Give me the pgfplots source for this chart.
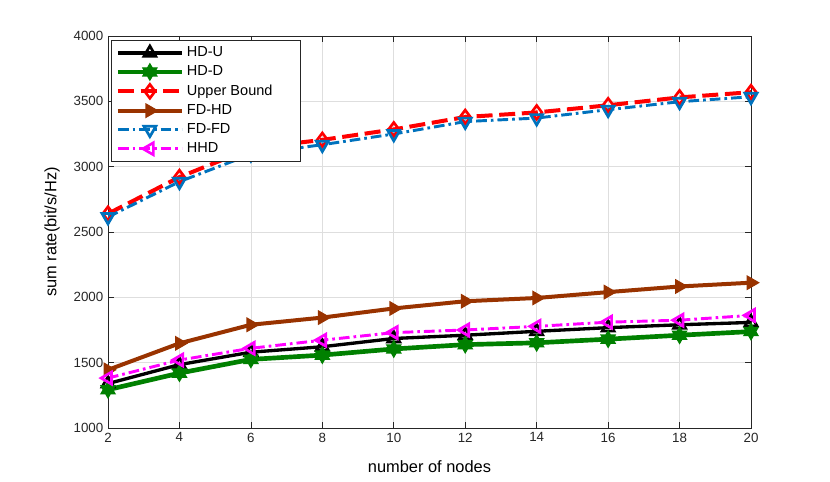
\documentclass[border=0pt]{standalone}
\usepackage{pgfplots}
\pgfplotsset{compat=1.18}
\usepackage{fontspec}
\setmainfont{Liberation Sans}
\definecolor{mbrown}{rgb}{0.6,0.2,0}
\definecolor{mblue}{rgb}{0,0.447,0.741}
\definecolor{mgreen}{rgb}{0,0.5,0}
\definecolor{mmag}{rgb}{1,0,1}
\definecolor{axgray}{rgb}{0.15,0.15,0.15}
\pgfdeclareplotmark{hexagram}{%
  \pgfpathmoveto{\pgfpointpolar{90}{1.2\pgfplotmarksize}}%
  \pgfpathlineto{\pgfpointpolar{210}{1.2\pgfplotmarksize}}%
  \pgfpathlineto{\pgfpointpolar{330}{1.2\pgfplotmarksize}}%
  \pgfpathclose
  \pgfpathmoveto{\pgfpointpolar{270}{1.2\pgfplotmarksize}}%
  \pgfpathlineto{\pgfpointpolar{30}{1.2\pgfplotmarksize}}%
  \pgfpathlineto{\pgfpointpolar{150}{1.2\pgfplotmarksize}}%
  \pgfpathclose
  \pgfusepathqfillstroke}
\begin{document}
\begin{tikzpicture}
\path[use as bounding box] (-81pt,-39.75pt) rectangle (541.5pt,321pt);
\begin{axis}[
  at={(0,0)}, anchor=south west,
  scale only axis, width=482.25pt, height=294pt,
  xmin=2, xmax=20, ymin=1000, ymax=4000,
  xtick={2,4,...,20}, ytick={1000,1500,...,4000},
  grid=major, grid style={color=black!13, line width=0.5pt},
  axis line style={axgray, line width=0.5pt},
  tick style={axgray, line width=0.5pt},
  major tick length=4.5pt,
  font=\fontsize{10}{12}\selectfont,
  ticklabel style={font=\fontsize{10}{12}\selectfont, color=axgray},
  /pgf/number format/assume math mode=true,
  /pgf/number format/1000 sep={},
  xlabel={number of nodes},
  ylabel={sum rate(bit/s/Hz)},
  xlabel style={at={(axis description cs:0.5,-0.0995)}, anchor=center, font=\fontsize{12.3}{14}\selectfont},
  ylabel style={at={(axis description cs:-0.087,0.5)}, anchor=center, font=\fontsize{12.3}{14}\selectfont},
  legend cell align=left,
  legend style={at={(0.005,0.99)}, anchor=north west, draw=axgray, line width=0.5pt,
    font=\fontsize{10.9}{11}\selectfont, row sep=1.3pt, inner sep=3pt, fill=white},
  legend image code/.code={\draw[mark repeat=2, mark phase=2] plot coordinates {(0pt,0pt) (24pt,0pt) (48pt,0pt)};},
]
\addplot[black, line width=2.5pt, mark=triangle, mark size=5.2pt, mark options={solid, fill=white, line width=2pt}]
  coordinates {(2,1340)(4,1485)(6,1580)(8,1622)(10,1685)(12,1710)(14,1740)(16,1768)(18,1790)(20,1808)};
\addlegendentry{HD-U}
\addplot[mgreen, line width=3.5pt, mark=hexagram, mark size=5pt, mark options={solid, fill=mgreen, line width=1pt}]
  coordinates {(2,1293)(4,1420)(6,1525)(8,1558)(10,1605)(12,1638)(14,1652)(16,1680)(18,1710)(20,1738)};
\addlegendentry{HD-D}
\addplot[red, line width=3pt, dash pattern=on 12pt off 5pt, mark=diamond, mark size=5.2pt, mark options={solid, fill=white, line width=2pt}]
  coordinates {(2,2640)(4,2920)(6,3140)(8,3205)(10,3285)(12,3380)(14,3415)(16,3470)(18,3530)(20,3570)};
\addlegendentry{Upper Bound\rule{16pt}{0pt}}
\addplot[mbrown, line width=3pt, mark=triangle*, mark size=5.6pt, mark options={solid, fill=mbrown, rotate=-90, line width=1pt}]
  coordinates {(2,1445)(4,1648)(6,1790)(8,1845)(10,1915)(12,1970)(14,1995)(16,2040)(18,2083)(20,2112)};
\addlegendentry{FD-HD}
\addplot[mblue, line width=2.2pt, dash pattern=on 8pt off 3pt on 2pt off 3pt, mark=triangle, mark size=5.2pt, mark options={solid, fill=white, rotate=180, line width=2pt}]
  coordinates {(2,2615)(4,2885)(6,3095)(8,3168)(10,3250)(12,3345)(14,3372)(16,3436)(18,3497)(20,3535)};
\addlegendentry{FD-FD}
\addplot[mmag, line width=2.2pt, dash pattern=on 8pt off 3pt on 2pt off 3pt, mark=triangle, mark size=5.2pt, mark options={solid, fill=white, rotate=90, line width=2pt}]
  coordinates {(2,1382)(4,1520)(6,1610)(8,1672)(10,1730)(12,1750)(14,1778)(16,1810)(18,1825)(20,1862)};
\addlegendentry{HHD}
\end{axis}
\end{tikzpicture}
\end{document}
